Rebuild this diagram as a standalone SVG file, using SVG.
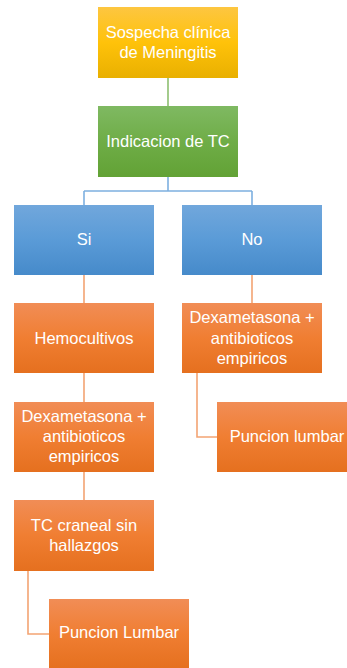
<svg xmlns="http://www.w3.org/2000/svg" width="347" height="668" viewBox="0 0 347 668">
<defs>
<linearGradient id="gGold" x1="0" y1="0" x2="0" y2="1"><stop offset="0" stop-color="#FDC641"/><stop offset="0.5" stop-color="#FFC20A"/><stop offset="1" stop-color="#E9B000"/></linearGradient>
<linearGradient id="gGreen" x1="0" y1="0" x2="0" y2="1"><stop offset="0" stop-color="#7FB962"/><stop offset="0.5" stop-color="#6FAD47"/><stop offset="1" stop-color="#62A235"/></linearGradient>
<linearGradient id="gBlue" x1="0" y1="0" x2="0" y2="1"><stop offset="0" stop-color="#71A7DC"/><stop offset="0.5" stop-color="#5A9BD7"/><stop offset="1" stop-color="#468ACA"/></linearGradient>
<linearGradient id="gOrange" x1="0" y1="0" x2="0" y2="1"><stop offset="0" stop-color="#F18D56"/><stop offset="0.5" stop-color="#F07E32"/><stop offset="1" stop-color="#E5701F"/></linearGradient>
</defs>
<style>
text{font-family:"Liberation Sans",Arial,sans-serif;font-size:16.5px;fill:#FFFFFF;text-anchor:middle}
.c{fill:none;stroke-width:1.6}
.cg{stroke:#8DBF70}
.cb{stroke:#7DB0E0}
.co{stroke:#F3A473}
</style>
<g id="connectors">
<path class="c cg" d="M168,78 V106"/>
<path class="c cb" d="M168,177 V191 M84,191 H252 M84,191 V205 M252,191 V205"/>
<path class="c co" d="M84,275 V303 M252,275 V303 M84,373 V402 M84,472 V500 M197,373 V437 H217 M28,571 V634 H49"/>
</g>
<g id="n1"><rect x="98" y="7" width="140" height="71" fill="url(#gGold)"/><text x="168" y="38">Sospecha clínica</text><text x="168" y="58">de Meningitis</text></g>
<g id="n2"><rect x="98" y="106" width="140" height="71" fill="url(#gGreen)"/><text x="168" y="147">Indicacion de TC</text></g>
<g id="si"><rect x="14" y="205" width="140" height="70" fill="url(#gBlue)"/><text x="84" y="245">Si</text></g>
<g id="no"><rect x="182" y="205" width="140" height="70" fill="url(#gBlue)"/><text x="252" y="245">No</text></g>
<g id="hemo"><rect x="14" y="303" width="140" height="70" fill="url(#gOrange)"/><text x="84" y="344">Hemocultivos</text></g>
<g id="dexaR"><rect x="182" y="303" width="140" height="70" fill="url(#gOrange)"/><text x="252" y="323">Dexametasona +</text><text x="252" y="344">antibioticos</text><text x="252" y="364">empiricos</text></g>
<g id="dexaL"><rect x="14" y="402" width="140" height="70" fill="url(#gOrange)"/><text x="84" y="422">Dexametasona +</text><text x="84" y="442">antibioticos</text><text x="84" y="462">empiricos</text></g>
<g id="plR"><rect x="217" y="402" width="140" height="70" fill="url(#gOrange)"/><text x="287" y="442">Puncion lumbar</text></g>
<g id="tc"><rect x="14" y="500" width="140" height="71" fill="url(#gOrange)"/><text x="84" y="531">TC craneal sin</text><text x="84" y="551">hallazgos</text></g>
<g id="plL"><rect x="49" y="599" width="140" height="70" fill="url(#gOrange)"/><text x="119" y="638">Puncion Lumbar</text></g>
</svg>
